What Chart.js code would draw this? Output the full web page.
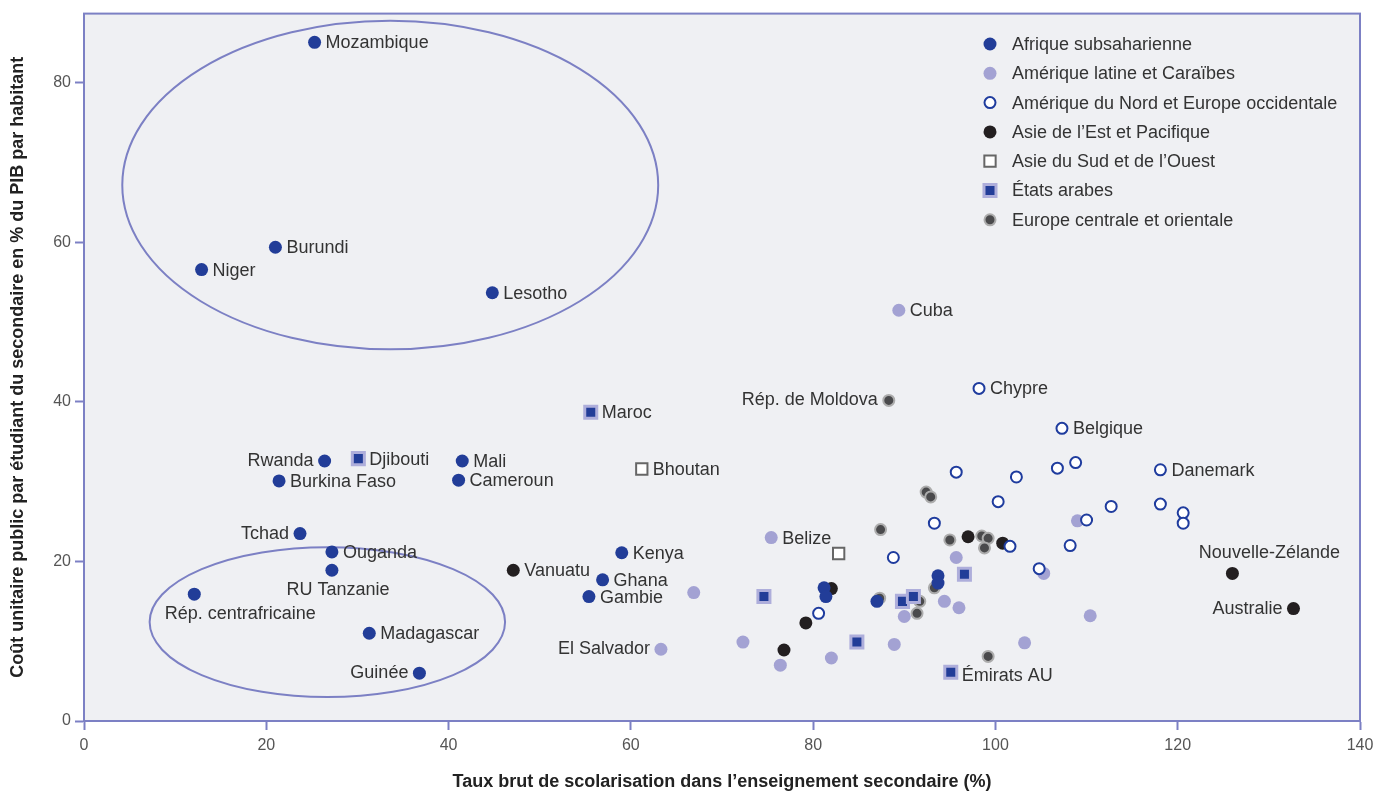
<!DOCTYPE html>
<html>
<head>
<meta charset="utf-8">
<script src="https://cdn.jsdelivr.net/npm/chart.js@4.4.0/dist/chart.umd.min.js"></script>
<style>
    html, body { margin: 0; padding: 0; background: #fff; }
</style>
</head>
<body>
<canvas id="coutChart" width="1377" height="793"></canvas>
<script>
(function coutUnitaire () {
    'use strict';

    // [taux brut de scolarisation, cout unitaire, nom]
    var afrique = [
        [25.3, 85.1, 'Mozambique'], [21.0, 59.4, 'Burundi'], [12.9, 56.6, 'Niger'],
        [44.8, 53.7, 'Lesotho'], [26.4, 32.6, 'Rwanda'], [21.4, 30.1, 'Burkina Faso'],
        [41.5, 32.6, 'Mali'], [41.1, 30.2, 'Cameroun'], [23.7, 23.5, 'Tchad'],
        [27.2, 21.2, 'Ouganda'], [27.2, 18.9, 'RU Tanzanie'], [12.1, 15.9, 'Rép. centrafricaine'],
        [31.3, 11.0, 'Madagascar'], [36.8, 6.0, 'Guinée'], [59.0, 21.1, 'Kenya'],
        [56.9, 17.7, 'Ghana'], [55.4, 15.6, 'Gambie'],
        [81.2, 16.7], [81.4, 15.6], [87.0, 15.0], [93.7, 18.2], [93.7, 17.3]
    ];
    var ameriqueLatine = [
        [89.4, 51.5, 'Cuba'], [75.4, 23.0, 'Belize'], [63.3, 9.0, 'El Salvador'],
        [66.9, 16.1], [72.3, 9.9], [76.4, 7.0], [82.0, 7.9], [88.9, 9.6],
        [90.0, 13.1], [94.4, 15.0], [96.0, 14.2], [95.7, 20.5], [103.2, 9.8],
        [105.3, 18.5], [109.0, 25.1], [110.4, 13.2]
    ];
    var ameriqueNord = [
        [98.2, 41.7, 'Chypre'], [107.3, 36.7, 'Belgique'], [118.1, 31.5, 'Danemark'],
        [95.7, 31.2], [102.3, 30.6], [106.8, 31.7], [108.8, 32.4], [100.3, 27.5],
        [93.3, 24.8], [110.0, 25.2], [101.6, 21.9], [108.2, 22.0], [88.8, 20.5],
        [104.8, 19.1], [112.7, 26.9], [118.1, 27.2], [120.6, 26.1], [120.6, 24.8],
        [80.6, 13.5]
    ];
    var asieEst = [
        [47.1, 18.9, 'Vanuatu'], [126.0, 18.5, 'Nouvelle-Zélande'], [132.7, 14.1, 'Australie'],
        [82.0, 16.6], [79.2, 12.3], [76.8, 8.9], [97.0, 23.1], [100.8, 22.3]
    ];
    var asieSud = [
        [61.2, 31.6, 'Bhoutan'], [82.8, 21.0]
    ];
    var etatsArabes = [
        [55.6, 38.7, 'Maroc'], [30.1, 32.9, 'Djibouti'], [74.6, 15.6], [84.8, 9.9],
        [89.8, 15.0], [91.0, 15.6], [96.6, 18.4], [95.1, 6.1, 'Émirats AU']
    ];
    var europeCentrale = [
        [88.3, 40.2, 'Rép. de Moldova'], [92.4, 28.7], [92.9, 28.1], [87.4, 24.0],
        [95.0, 22.7], [98.5, 23.2], [99.2, 22.9], [98.8, 21.7], [87.3, 15.4],
        [91.7, 15.0], [91.4, 13.5], [93.3, 16.7], [99.2, 8.1]
    ];
    var regions = [
        'Afrique subsaharienne',
        'Amérique latine et Caraïbes',
        'Amérique du Nord et Europe occidentale',
        'Asie de l\u2019Est et Pacifique',
        'Asie du Sud et de l\u2019Ouest',
        'États arabes',
        'Europe centrale et orientale'
    ];
    var xTicks = [0, 20, 40, 60, 80, 100, 120, 140];
    var yTicks = [0, 20, 40, 60, 80];
    // ellipses: [centre x, centre y, demi-axe x, demi-axe y]
    var ellipses = [
        [33.6, 67.2, 29.4, 20.6],
        [26.7, 12.4, 19.5, 9.4]
    ];

    var police = '"Liberation Sans", Arial, sans-serif';
    var violet = '#7c80c4';
    var styles = [
        { pointStyle: 'circle', radius: 6.5, backgroundColor: '#223d98', borderColor: '#223d98', borderWidth: 0, order: 3 },
        { pointStyle: 'circle', radius: 6.5, backgroundColor: '#a3a2d3', borderColor: '#a3a2d3', borderWidth: 0, order: 6 },
        { pointStyle: 'circle', radius: 5.5, backgroundColor: '#ffffff', borderColor: '#1f3c9e', borderWidth: 2, order: 0 },
        { pointStyle: 'circle', radius: 6.5, backgroundColor: '#231f20', borderColor: '#231f20', borderWidth: 0, order: 5 },
        { pointStyle: 'rect', radius: 8, backgroundColor: '#ffffff', borderColor: '#666666', borderWidth: 2, order: 1 },
        { pointStyle: 'rect', radius: 8.5, backgroundColor: '#223d98', borderColor: '#aeaedb', borderWidth: 3, order: 2 },
        { pointStyle: 'circle', radius: 5.5, backgroundColor: '#4a4a4c', borderColor: '#acacac', borderWidth: 2, order: 4 }
    ];
    var series = [afrique, ameriqueLatine, ameriqueNord, asieEst, asieSud, etatsArabes, europeCentrale];

    // placement des noms: [alignement, dx, dy]
    var placement = {
        'Rwanda': ['right', -11, 0],
        'Tchad': ['right', -11, 0],
        'Guinée': ['right', -11, 0],
        'El Salvador': ['right', -11, 0],
        'Australie': ['right', -11, 0],
        'Rép. de Moldova': ['right', -11, 0],
        'RU Tanzanie': ['center', 6, 20],
        'Rép. centrafricaine': ['center', 46, 20],
        'Nouvelle-Zélande': ['center', 37, -20],
        'Émirats AU': ['left', 11, 4]
    };

    function dessinerMarqueur (ctx, st, x, y) {
        ctx.save();
        ctx.fillStyle = st.backgroundColor;
        ctx.strokeStyle = st.borderColor;
        ctx.lineWidth = st.borderWidth;
        ctx.beginPath();
        if (st.pointStyle === 'rect') {
            var s = st.radius * Math.SQRT1_2;
            ctx.rect(x - s, y - s, 2 * s, 2 * s);
        } else {
            ctx.arc(x, y, st.radius, 0, Math.PI * 2);
        }
        ctx.fill();
        if (st.borderWidth > 0) {
            ctx.stroke();
        }
        ctx.restore();
    }

    var habillage = {
        id: 'habillage',
        beforeDraw: function fond (chart) {
            var a = chart.chartArea;
            var ctx = chart.ctx;

            ctx.save();
            ctx.fillStyle = '#eff0f3';
            ctx.fillRect(a.left, a.top, a.right - a.left, a.bottom - a.top);
            ctx.restore();
        },
        beforeDatasetsDraw: function cercles (chart) {
            var ctx = chart.ctx;
            var sx = chart.scales.x;
            var sy = chart.scales.y;

            ctx.save();
            ctx.strokeStyle = violet;
            ctx.lineWidth = 2;
            ellipses.forEach(function (e) {
                var cx = sx.getPixelForValue(e[0]);
                var cy = sy.getPixelForValue(e[1]);
                var rx = sx.getPixelForValue(e[0] + e[2]) - cx;
                var ry = cy - sy.getPixelForValue(e[1] + e[3]);

                ctx.beginPath();
                ctx.ellipse(cx, cy, rx, ry, 0, 0, Math.PI * 2);
                ctx.stroke();
            });
            ctx.restore();
        },
        afterDatasetsDraw: function noms (chart) {
            var ctx = chart.ctx;
            var a = chart.chartArea;

            ctx.save();
            ctx.font = '18px ' + police;
            ctx.fillStyle = '#333333';
            ctx.textBaseline = 'middle';
            chart.data.datasets.forEach(function (ds, i) {
                var meta = chart.getDatasetMeta(i);

                ds.data.forEach(function (pt, j) {
                    if (!pt.nom) {
                        return;
                    }
                    var el = meta.data[j];
                    var p = placement[pt.nom] || ['left', 11, 1];

                    ctx.textAlign = p[0];
                    ctx.fillText(pt.nom, el.x + p[1], el.y + p[2]);
                });
            });

            // légende
            ctx.textAlign = 'left';
            regions.forEach(function (r, i) {
                var y = 44 + i * 29.3;

                dessinerMarqueur(ctx, styles[i], 990, y);
                ctx.fillStyle = '#333333';
                ctx.fillText(r, 1012, y + 1);
            });

            // cadre
            ctx.strokeStyle = violet;
            ctx.lineWidth = 2;
            ctx.strokeRect(a.left, a.top, a.right - a.left, a.bottom - a.top);
            ctx.restore();
        }
    };

    var datasets = series.map(function (s, i) {
        var st = styles[i];

        return {
            label: regions[i],
            data: s.map(function (p) {
                return { x: p[0], y: p[1], nom: p[2] };
            }),
            pointStyle: st.pointStyle,
            pointRadius: st.radius,
            pointHoverRadius: st.radius,
            backgroundColor: st.backgroundColor,
            borderColor: st.borderColor,
            borderWidth: st.borderWidth,
            order: st.order
        };
    });

    new Chart(document.getElementById('coutChart').getContext('2d'), {
        type: 'scatter',
        data: { datasets: datasets },
        plugins: [habillage],
        options: {
            responsive: false,
            animation: false,
            layout: { padding: { top: 11, right: 17, left: 0, bottom: 0 } },
            plugins: {
                legend: { display: false },
                tooltip: { enabled: false }
            },
            scales: {
                x: {
                    type: 'linear',
                    min: 0,
                    max: 140,
                    afterBuildTicks: function (scale) {
                        scale.ticks = xTicks.map(function (v) { return { value: v }; });
                    },
                    afterFit: function (scale) {
                        scale.height = 72;
                        scale.paddingLeft = 0;
                        scale.paddingRight = 0;
                    },
                    grid: { drawOnChartArea: false, drawTicks: true, tickLength: 9, tickWidth: 2, color: violet },
                    border: { display: true, color: violet, width: 2 },
                    ticks: { padding: 6, color: '#555555', font: { family: police, size: 16 } },
                    title: {
                        display: true,
                        text: 'Taux brut de scolarisation dans l\u2019enseignement secondaire (%)',
                        color: '#222222',
                        font: { family: police, size: 18, weight: 'bold' },
                        padding: { top: 0, bottom: 0 }
                    }
                },
                y: {
                    type: 'linear',
                    min: 0,
                    max: 88.7,
                    afterBuildTicks: function (scale) {
                        scale.ticks = yTicks.map(function (v) { return { value: v }; });
                    },
                    afterFit: function (scale) {
                        scale.width = 84;
                    },
                    grid: { drawOnChartArea: false, drawTicks: true, tickLength: 9, tickWidth: 2, color: violet },
                    border: { display: true, color: violet, width: 2 },
                    ticks: { padding: 4, color: '#555555', font: { family: police, size: 16 } },
                    title: {
                        display: true,
                        text: 'Coût unitaire public par étudiant du secondaire en % du PIB par habitant',
                        color: '#222222',
                        font: { family: police, size: 18, weight: 'bold' },
                        padding: { top: 7, bottom: 0 }
                    }
                }
            }
        }
    });
}());
</script>
</body>
</html>
